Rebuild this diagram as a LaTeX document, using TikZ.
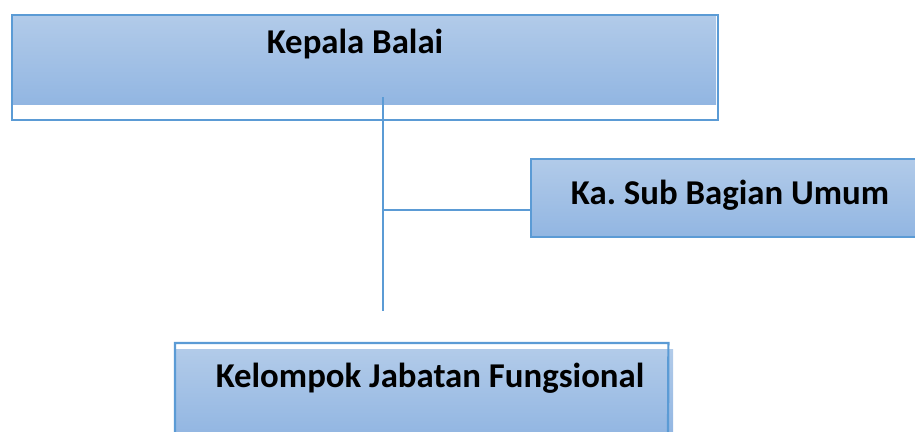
\documentclass[tikz,border=0pt]{standalone}
\usepackage{fontspec}
\setmainfont{Carlito}
\definecolor{lineblue}{HTML}{5B9BD5}
\definecolor{filltop}{HTML}{B2CBE9}
\definecolor{fillbot}{HTML}{92B6E2}
\frenchspacing
\begin{document}
\begin{tikzpicture}[x=1pt,y=-1pt,
  boxfill/.style={top color=filltop,bottom color=fillbot},
  boxline/.style={draw=lineblue,line width=2.2pt},
  conn/.style={draw=lineblue,line width=1.6pt},
  lbl/.style={font=\fontsize{34.8}{38}\bfseries\selectfont,text=black,inner sep=0pt,anchor=base}]
\useasboundingbox (0,0) rectangle (915,431);
% top box
\fill[boxfill] (11,14) rectangle (716,104);
\node[boxline,minimum width=706pt,minimum height=105pt,inner sep=0pt,anchor=north west] (kb) at (11,14) {};
\node[lbl] (kbt) at (355,53) {Kepala Balai};
% sub box
\fill[boxfill] (530,158) rectangle (925,236);
\node[boxline,minimum width=395pt,minimum height=78pt,inner sep=0pt,anchor=north west] (sb) at (530,158) {};
\node[lbl] (sbt) at (730,204) {Ka. Sub Bagian Umum};
% bottom box
\fill[boxfill] (175,349) rectangle (673,435);
\coordinate (bl) at (175,435);
\coordinate (br) at (668,435);
\node[inner sep=0pt,minimum width=493pt,minimum height=0pt,anchor=north west] (kj) at (175,343) {};
\draw[boxline] (bl) -- (kj.north west) -- (kj.north east) -- (br);
\node[lbl] (kjt) at (430,387) {Kelompok Jabatan Fungsional};
% connectors
\coordinate (vtop) at (383,97);
\coordinate (vbot) at (383,311);
\coordinate (junc) at (383,210);
\draw[conn] (vtop) -- (vbot);
\draw[conn] (junc) -- (sb.west |- junc);
\end{tikzpicture}
\end{document}
